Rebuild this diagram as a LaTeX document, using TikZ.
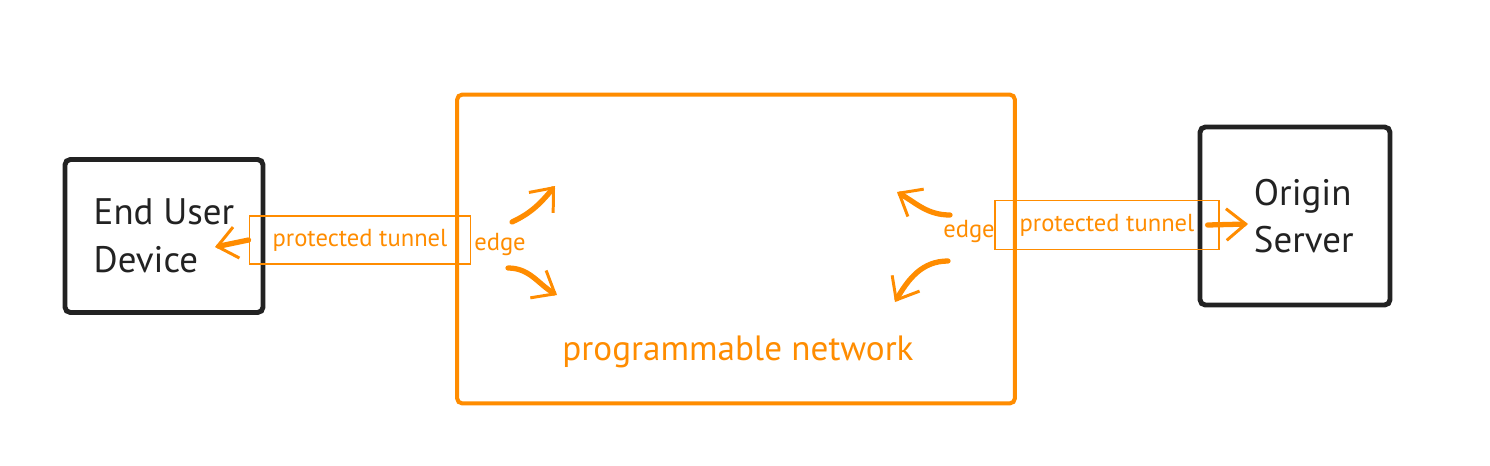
\documentclass[tikz,border=0pt]{standalone}
\usepackage{fontspec}
\setmainfont{PT Sans}
\usepackage{tikz}
\usetikzlibrary{arrows.meta,positioning}
\definecolor{netorange}{RGB}{255,140,0}
\definecolor{boxgray}{RGB}{34,34,34}

\begin{document}
\begin{tikzpicture}[x=0.02cm, y=-0.02cm, >={Straight Barb[length=11pt,width=18pt,line width=1.7pt]}, semithick]
	\tikzstyle{device}=[draw=boxgray,line width=2.8pt,rounded corners=3pt,align=left,text=boxgray,font=\fontsize{21}{27}\selectfont]
	\tikzstyle{tunnel}=[draw=netorange,line width=1.1pt,text=netorange,font=\fontsize{14}{16}\selectfont]
	\tikzstyle{label}=[text=netorange,font=\fontsize{14}{16}\selectfont,inner sep=1pt]
	\tikzstyle{flow}=[->,draw=netorange,line width=3pt,line cap=round]
	\useasboundingbox (0,0) rectangle (1490,466);
	\node[device,minimum width=3.96cm,minimum height=3.06cm] (U) at (164,236) {End User\\Device};
	\node[draw=netorange,line width=2.3pt,rounded corners=3pt,minimum width=11.16cm,minimum height=6.18cm] (N) at (736,249) {};
	\node[device,minimum width=3.8cm,minimum height=3.56cm] (O) at (1295,216) {\hspace{0.35cm}Origin\\\hspace{0.35cm}Server};
	\node[text=netorange,font=\fontsize{20}{24}\selectfont] (P) at (738,352) {programmable network};
	\node[tunnel,minimum width=4.42cm,minimum height=0.96cm] (T1) at (360,240) {protected tunnel};
	\node[tunnel,minimum width=4.48cm,minimum height=0.98cm] (T2) at (1107,225) {protected tunnel};
	\node[label] (E1) at (500,244) {edge};
	\node[label] (E2) at (969,231) {edge};
	\coordinate (L1) at (215,247);
	\coordinate (R1) at (1248,224);
	\coordinate (a1) at (512,222);
	\coordinate (a2) at (555,186);
	\coordinate (b1) at (508,268);
	\coordinate (b2) at (557,295);
	\coordinate (c1) at (950,215);
	\coordinate (c2) at (897,192);
	\coordinate (d1) at (948,261);
	\coordinate (d2) at (895,302);
	\path
	(T1.west) edge[flow] (L1)
	([xshift=-7pt]T2.east) edge[flow] (R1)
	(a1) edge[flow,out=25,in=-130] (a2)
	(b1) edge[flow,out=0,in=150] (b2)
	(c1) edge[flow,out=180,in=-30] (c2)
	(d1) edge[flow,out=180,in=60] (d2);
\end{tikzpicture}
\end{document}
